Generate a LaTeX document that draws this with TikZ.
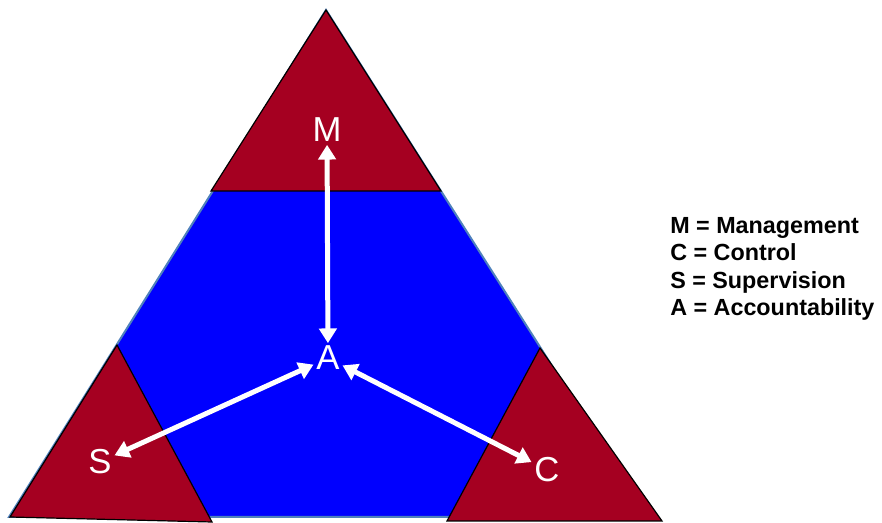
\documentclass[tikz,border=0pt]{standalone}
\usepackage{fontspec}
\setmainfont{Liberation Sans}
\usetikzlibrary{arrows.meta}
\definecolor{wine}{RGB}{165,0,33}
\definecolor{edgeblue}{RGB}{79,129,189}
\tikzset{
  corner/.style={fill=wine, draw=black, line width=0.9pt, line join=miter},
  lab/.style={text=white, font=\fontsize{26}{28}\selectfont, inner sep=2pt},
  link/.style={draw=white, line width=3.75pt,
    {Triangle[length=11pt,width=13pt]}-{Triangle[length=11pt,width=13pt]}}
}

\begin{document}
\begin{tikzpicture}[x=0.75pt, y=-0.75pt]
\useasboundingbox (0,0) rectangle (882,523);
%%%%%%%%%%
% Big triangle (background)
%%%%%%%%%%
\begin{scope}
\fill[blue, draw=edgeblue, line width=1.5pt] (326,10) -- (9,517) -- (648,517) -- cycle;
\end{scope}

%%%%%%%%%%
% Corner triangles
%%%%%%%%%%
\begin{scope}
% M (top)
\draw[corner] (326,10) -- (211,191) -- (441,191) -- cycle;
% S (bottom left)
\draw[corner] (117,345) -- (10,517) -- (212,522) -- cycle;
% C (bottom right)
\draw[corner] (540,348) -- (447,521) -- (662,521) -- cycle;
\end{scope}

%%%%%%%%%%
% Labels (foreground)
%%%%%%%%%%
\foreach \nm/\x/\y in {
M/327/130,
A/328/358,
S/100/462,
C/547/470
} {
\node[lab] (\nm) at (\x,\y) {\nm};
}

% Arrows
\draw[link] (M) -- (A);
\draw[link] (S) -- (A);
\draw[link] (A) -- (C);

% Legend
\node[align=left, anchor=north west, inner sep=0pt,
      font=\fontsize{17.5}{20.6}\selectfont\bfseries] (legend) at (670,217)
  {M = Management\\C = Control\\S = Supervision\\A = Accountability};
\end{tikzpicture}
\end{document}
